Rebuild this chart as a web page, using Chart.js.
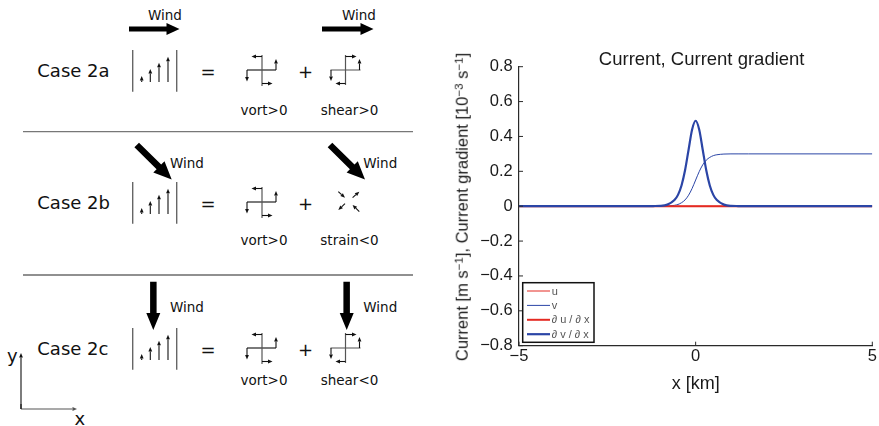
<!DOCTYPE html>
<html>
<head>
<meta charset="utf-8">
<script src="https://cdn.jsdelivr.net/npm/chart.js@4.4.1/dist/chart.umd.min.js"></script>
<style>
  html, body { margin: 0; padding: 0; background: #fff; }
  #page { position: relative; width: 879px; height: 426px; overflow: hidden; }
  #sketch { position: absolute; left: 0; top: 0; }
  #plot { position: absolute; left: 440px; top: 0; }
  .lbl { position: absolute; font-family: "Liberation Sans", Arial, sans-serif; color: #1a1a1a; white-space: nowrap; line-height: 1; }
  .lbl sup { font-size: 0.7em; position: relative; top: -0.45em; vertical-align: baseline; }
  #plotTitle { left: 701.7px; top: 59px; transform: translate(-50%, -50%); font-size: 18.5px; }
  #yTitle { left: 462px; top: 207px; transform: translate(-50%, -50%) rotate(-90deg); font-size: 16.5px; }
</style>
</head>
<body>
<div id="page">
  <svg id="sketch" width="432" height="426" xmlns="http://www.w3.org/2000/svg"></svg>
  <canvas id="plot" width="439" height="426"></canvas>
  <div class="lbl" id="plotTitle">Current, Current gradient</div>
  <div class="lbl" id="yTitle">Current [m s<sup>−1</sup>], Current gradient [10<sup>−3</sup> s<sup>−1</sup>]</div>
</div>
<script>
// ---- profile data (x in km) ----
const xKm = [-5, -1.5, -1.2, -1, -0.8, -0.6, -0.5, -0.4, -0.3, -0.2, -0.1, 0,
             0.1, 0.2, 0.3, 0.4, 0.5, 0.6, 0.8, 1, 1.2, 1.5, 5];
const uVals = [0, 0, 0, 0, 0, 0, 0, 0, 0, 0, 0, 0,
               0, 0, 0, 0, 0, 0, 0, 0, 0, 0, 0];
const vVals = [0, 0, 0, 0, 0.001, 0.005, 0.010, 0.020, 0.036, 0.063, 0.102, 0.150,
               0.198, 0.237, 0.264, 0.280, 0.290, 0.295, 0.299, 0.300, 0.300, 0.300, 0.300];
const dudxVals = [0, 0, 0, 0, 0, 0, 0, 0, 0, 0, 0, 0,
                  0, 0, 0, 0, 0, 0, 0, 0, 0, 0, 0];
const dvdxVals = [0, 0, 0.001, 0.002, 0.009, 0.035, 0.065, 0.119, 0.206, 0.324, 0.440, 0.490,
                  0.440, 0.324, 0.206, 0.119, 0.065, 0.035, 0.009, 0.002, 0.001, 0, 0];
const seriesLabels = ["u", "v", "\u2202 u / \u2202 x", "\u2202 v / \u2202 x"];

// ---- schematic text ----
const caseNames = ["Case 2a", "Case 2b", "Case 2c"];
const firstTerms = ["vort>0", "vort>0", "vort>0"];
const secondTerms = ["shear>0", "strain<0", "shear<0"];

const RED = "#e42a22";
const BLUE = "#2b45a6";

// ---------------------------------------------------------------
// left panel: the three wind cases drawn as svg
// ---------------------------------------------------------------
const svg = document.getElementById("sketch");
let out = "";
const f = (n) => n.toFixed(1);

function bigArrow(x1, y1, x2, y2, body, headLen, headHalf) {
  const L = Math.hypot(x2 - x1, y2 - y1);
  const ux = (x2 - x1) / L, uy = (y2 - y1) / L, px = -uy, py = ux;
  const bx = x2 - ux * headLen, by = y2 - uy * headLen, h = body / 2;
  const pts = [
    [x1 + px * h, y1 + py * h], [bx + px * h, by + py * h],
    [bx + px * headHalf, by + py * headHalf], [x2, y2],
    [bx - px * headHalf, by - py * headHalf], [bx - px * h, by - py * h],
    [x1 - px * h, y1 - py * h]
  ];
  out += `<polygon points="${pts.map(p => f(p[0]) + "," + f(p[1])).join(" ")}" fill="#000"/>`;
}

function smallArrow(x1, y1, x2, y2, color) {
  const headLen = 4.5, headHalf = 1.9;
  const L = Math.hypot(x2 - x1, y2 - y1);
  const ux = (x2 - x1) / L, uy = (y2 - y1) / L, px = -uy, py = ux;
  const bx = x2 - ux * headLen, by = y2 - uy * headLen;
  out += `<line x1="${f(x1)}" y1="${f(y1)}" x2="${f(bx)}" y2="${f(by)}" stroke="${color || "#111"}" stroke-width="1.1"/>`;
  out += `<polygon points="${f(x2)},${f(y2)} ${f(bx + px * headHalf)},${f(by + py * headHalf)} ${f(bx - px * headHalf)},${f(by - py * headHalf)}" fill="${color || "#111"}"/>`;
}

function line(x1, y1, x2, y2, color, w) {
  out += `<line x1="${x1}" y1="${y1}" x2="${x2}" y2="${y2}" stroke="${color}" stroke-width="${w}"/>`;
}

function text(str, x, y, size, anchor) {
  const s = str.replace(/</g, "&lt;").replace(/>/g, "&gt;");
  out += `<text x="${x}" y="${y}" font-family="DejaVu Sans" font-size="${size}" fill="#111" text-anchor="${anchor || "start"}">${s}</text>`;
}

// velocity profile |  . ↑ ↑ ↑  |
function profile(dy) {
  line(132.7, 50 + dy, 132.7, 91.7 + dy, "#666", 1.4);
  line(176.7, 50 + dy, 176.7, 91.7 + dy, "#666", 1.4);
  const xs = [141.7, 150.3, 159, 168];
  const tops = [76, 69, 62.7, 56.7];
  xs.forEach((x, i) => smallArrow(x, 82 + dy, x, tops[i] + dy));
}

// rotation cross (vort>0)
function vortGlyph(cx, cy) {
  line(cx - 15, cy, cx + 14, cy, "#222", 1.2);
  line(cx, cy - 15, cx, cy + 16, "#555", 1.2);
  smallArrow(cx, cy - 13.5, cx - 10.5, cy - 13.5);
  smallArrow(cx + 14, cy, cx + 14, cy - 11);
  smallArrow(cx - 15, cy, cx - 15, cy + 11.5);
  smallArrow(cx, cy + 13.5, cx + 10.5, cy + 13.5);
}

// shear cross
function shearGlyph(cx, cy) {
  line(cx - 15, cy, cx + 15, cy, "#777", 1.3);
  line(cx, cy - 15, cx, cy + 15, "#555", 1.2);
  smallArrow(cx, cy - 13.5, cx + 11, cy - 13.5);
  smallArrow(cx + 14, cy, cx + 14, cy - 11);
  smallArrow(cx - 14.5, cy, cx - 14.5, cy + 11);
  smallArrow(cx, cy + 13.5, cx - 10, cy + 13.5);
}

// strain: converging along one diagonal, spreading along the other
function strainGlyph(cx, cy) {
  smallArrow(cx - 10.5, cy - 9.8, cx - 3.8, cy - 3.8);
  smallArrow(cx + 3.8, cy - 3.8, cx + 10.5, cy - 9.8);
  smallArrow(cx - 3.8, cy + 2.2, cx - 10.5, cy + 8.5);
  smallArrow(cx + 10.5, cy + 10.2, cx + 3.8, cy + 3.5);
}

const rowShift = [0, 132, 278];
const labelBase = [115, 245, 385];

// wind arrows
bigArrow(129, 29, 179.5, 29, 5.3, 13, 6);
bigArrow(322, 29, 373.5, 29, 5.3, 13, 6);
bigArrow(136.7, 145, 171.7, 179.5, 6.5, 18, 8);
bigArrow(330, 145, 365, 179.5, 6.5, 18, 8);
bigArrow(153.3, 281.7, 153.3, 330, 6.5, 17, 7);
bigArrow(346.7, 281.7, 346.7, 330, 6.5, 17, 7);
text("Wind", 148, 19.9, 13.5);
text("Wind", 342, 19.9, 13.5);
text("Wind", 170, 168.2, 13.5);
text("Wind", 363.3, 168.2, 13.5);
text("Wind", 170, 312.2, 13.5);
text("Wind", 363.3, 312.2, 13.5);

caseNames.forEach((name, i) => {
  const dy = rowShift[i];
  text(name, 37.3, 76.5 + dy, 18);
  profile(dy);
  text("=", 208, 77.5 + dy, 18, "middle");
  text("+", 305.5, 77.5 + dy, 18, "middle");
  vortGlyph(262, 70 + dy);
  if (i === 1) strainGlyph(348.8, 201.5);
  else shearGlyph(345.5, 70 + dy);
  text(firstTerms[i], 264, labelBase[i], 13.5, "middle");
  text(secondTerms[i], 349.5, labelBase[i], 13.5, "middle");
});

line(23, 131.7, 413, 131.7, "#777", 1.2);
line(23, 275, 413, 275, "#222", 1.2);

// coordinate key in the corner
smallArrow(21, 409, 21, 353);
smallArrow(21, 409, 77, 409, "#555");
line(21, 409, 21, 404, "#111", 1.1);
text("y", 7, 361.5, 18);
text("x", 74.5, 425, 18);

svg.innerHTML = out;

// ---------------------------------------------------------------
// right panel: current profile chart
// ---------------------------------------------------------------
function toPoints(ys) {
  return xKm.map((x, i) => ({ x: x, y: ys[i] }));
}

function fmtTick(v) {
  const r = Math.round(v * 10) / 10;
  return String(r).replace("-", "\u2212");
}

// inward tick marks, MATLAB style
const inwardTicks = {
  id: "inwardTicks",
  afterDraw(chart) {
    const ctx = chart.ctx;
    const xs = chart.scales.x, ys = chart.scales.y;
    const a = chart.chartArea;
    ctx.save();
    ctx.strokeStyle = "#2a2a2a";
    ctx.lineWidth = 1;
    ys.ticks.forEach((t) => {
      const py = ys.getPixelForValue(t.value);
      ctx.beginPath();
      ctx.moveTo(a.left, py);
      ctx.lineTo(a.left + 4, py);
      ctx.stroke();
    });
    xs.ticks.forEach((t) => {
      const px = xs.getPixelForValue(t.value);
      ctx.beginPath();
      ctx.moveTo(px, a.bottom);
      ctx.lineTo(px, a.bottom - 4);
      ctx.stroke();
    });
    ctx.restore();
  }
};

// boxed legend in the lower-left corner of the axes
const boxLegend = {
  id: "boxLegend",
  afterDraw(chart) {
    const ctx = chart.ctx;
    const a = chart.chartArea;
    const left = a.left + 3.7, bottom = a.bottom - 3.4;
    const w = 71.3, h = 59.6, top = bottom - h;
    ctx.save();
    ctx.fillStyle = "#fff";
    ctx.fillRect(left, top, w, h);
    ctx.strokeStyle = "#111";
    ctx.lineWidth = 1.5;
    ctx.strokeRect(left, top, w, h);
    ctx.font = '11px "Liberation Sans", Arial, sans-serif';
    ctx.textBaseline = "middle";
    chart.data.datasets.forEach((ds, i) => {
      const y = top + 8.3 + i * 14.4;
      ctx.strokeStyle = ds.borderColor;
      ctx.lineWidth = ds.borderWidth;
      ctx.beginPath();
      ctx.moveTo(left + 4.3, y);
      ctx.lineTo(left + 27.3, y);
      ctx.stroke();
      ctx.fillStyle = "#555";
      ctx.fillText(ds.label, left + 29, y + 0.5);
    });
    ctx.restore();
  }
};

const tickFont = { family: '"Liberation Sans", Arial, sans-serif', size: 16.5 };

new Chart(document.getElementById("plot"), {
  type: "line",
  data: {
    datasets: [
      { label: seriesLabels[0], data: toPoints(uVals), borderColor: RED, borderWidth: 1, order: 4 },
      { label: seriesLabels[1], data: toPoints(vVals), borderColor: BLUE, borderWidth: 1, order: 3 },
      { label: seriesLabels[2], data: toPoints(dudxVals), borderColor: RED, borderWidth: 2, order: 2 },
      { label: seriesLabels[3], data: toPoints(dvdxVals), borderColor: BLUE, borderWidth: 2.2, order: 1 }
    ]
  },
  options: {
    responsive: false,
    animation: false,
    devicePixelRatio: 1,
    layout: { padding: { left: 0, right: 6.7, top: 66.7, bottom: 0 } },
    elements: {
      point: { radius: 0 },
      line: { cubicInterpolationMode: "monotone", fill: false }
    },
    plugins: {
      legend: { display: false },
      tooltip: { enabled: false },
      title: { display: false }
    },
    scales: {
      x: {
        type: "linear",
        min: -5,
        max: 5,
        grid: { display: false, drawTicks: false },
        border: { display: true, color: "#2a2a2a", width: 1.2 },
        ticks: { stepSize: 5, color: "#1a1a1a", font: tickFont, padding: 1.1, callback: fmtTick, maxRotation: 0 },
        title: {
          display: true,
          text: "x [km]",
          color: "#1a1a1a",
          font: { family: '"Liberation Sans", Arial, sans-serif', size: 18 },
          padding: { top: 0, bottom: 31.5 }
        },
        afterFit(scale) { scale.height = 80.3; }
      },
      y: {
        min: -0.8,
        max: 0.8,
        grid: { display: false, drawTicks: false },
        border: { display: true, color: "#2a2a2a", width: 1.2 },
        ticks: { stepSize: 0.2, color: "#1a1a1a", font: tickFont, padding: 6.3, callback: fmtTick },
        afterFit(scale) { scale.width = 79; }
      }
    }
  },
  plugins: [inwardTicks, boxLegend]
});
</script>
</body>
</html>
